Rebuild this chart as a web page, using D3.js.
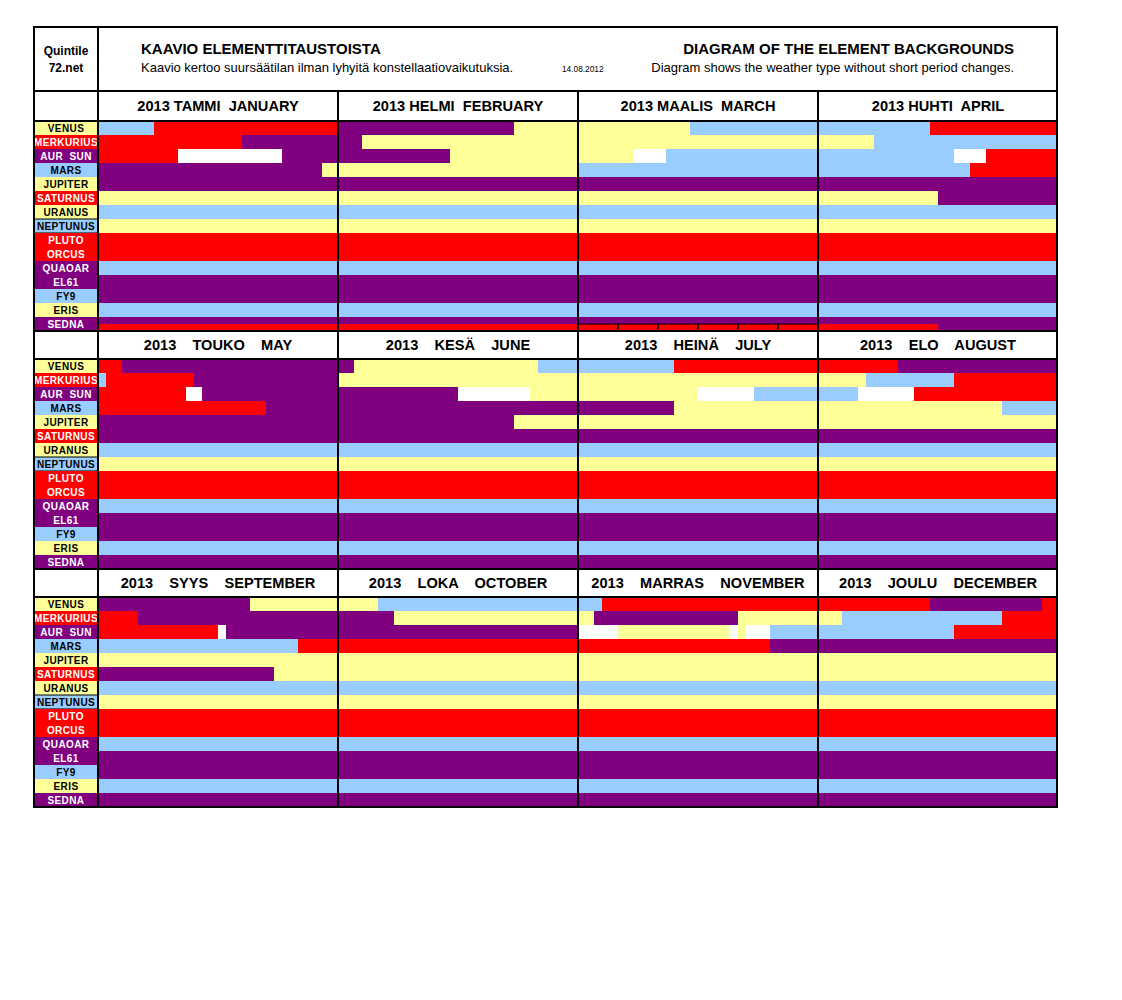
<!DOCTYPE html>
<html>
<head>
<meta charset="utf-8">
<script src="https://cdn.jsdelivr.net/npm/d3@7"></script>
<style>
  body { margin: 0; background: #fff; }
  text { font-family: Arial, "Liberation Sans", sans-serif; white-space: pre; }
</style>
</head>
<body>
<div id="chart"></div>
<script>
var svgWidth = 1122;
var svgHeight = 1000;

// rows of the table
var planets = ["VENUS", "MERKURIUS", "AUR  SUN", "MARS", "JUPITER", "SATURNUS", "URANUS",
  "NEPTUNUS", "PLUTO", "ORCUS", "QUAOAR", "EL61", "FY9", "ERIS", "SEDNA"];
var labelColors = ["Y", "R", "P", "B", "Y", "R", "Y", "B", "R", "R", "P", "P", "B", "Y", "P"];

var monthTitles = [
  "2013 TAMMI  JANUARY", "2013 HELMI  FEBRUARY", "2013 MAALIS  MARCH", "2013 HUHTI  APRIL",
  "2013    TOUKO    MAY", "2013    KESÄ    JUNE", "2013    HEINÄ    JULY", "2013    ELO    AUGUST",
  "2013    SYYS    SEPTEMBER", "2013    LOKA    OCTOBER", "2013    MARRAS    NOVEMBER", "2013    JOULU    DECEMBER"
];

// each row: colour code + day where that colour ends (30 day grid per month)
var january   = ["B7 R30", "R18 P30", "R10 W23 P30", "P28 Y30", "P30", "Y30", "B30", "Y30", "R30", "R30", "B30", "P30", "P30", "B30", "P30"];
var february  = ["P22 Y30", "P3 Y30", "P14 Y30", "Y30", "P30", "Y30", "B30", "Y30", "R30", "R30", "B30", "P30", "P30", "B30", "P30"];
var march     = ["Y14 B30", "Y30", "Y7 W11 B30", "B30", "P30", "Y30", "B30", "Y30", "R30", "R30", "B30", "P30", "P30", "B30", "P30"];
var april     = ["B14 R30", "Y7 B30", "B17 W21 R30", "B19 R30", "P30", "Y15 P30", "B30", "Y30", "R30", "R30", "B30", "P30", "P30", "B30", "P30"];
var may       = ["R3 P30", "B1 R12 P30", "R11 W13 P30", "R21 P30", "P30", "P30", "B30", "Y30", "R30", "R30", "B30", "P30", "P30", "B30", "P30"];
var june      = ["P2 Y25 B30", "Y30", "P15 W24 Y30", "P30", "P22 Y30", "P30", "B30", "Y30", "R30", "R30", "B30", "P30", "P30", "B30", "P30"];
var july      = ["B12 R30", "Y30", "Y15 W22 B30", "P12 Y30", "Y30", "P30", "B30", "Y30", "R30", "R30", "B30", "P30", "P30", "B30", "P30"];
var august    = ["R10 P30", "Y6 B17 R30", "B5 W12 R30", "Y23 B30", "Y30", "P30", "B30", "Y30", "R30", "R30", "B30", "P30", "P30", "B30", "P30"];
var september = ["P19 Y30", "R5 P30", "R15 W16 P30", "B25 R30", "Y30", "P22 Y30", "B30", "Y30", "R30", "R30", "B30", "P30", "P30", "B30", "P30"];
var october   = ["Y5 B30", "P7 Y30", "P30", "R30", "Y30", "Y30", "B30", "Y30", "R30", "R30", "B30", "P30", "P30", "B30", "P30"];
var november  = ["B3 R30", "Y2 P20 Y30", "W5 Y19 W20 Y21 W24 B30", "R24 P30", "Y30", "Y30", "B30", "Y30", "R30", "R30", "B30", "P30", "P30", "B30", "P30"];
var december  = ["R14 P28 R30", "Y3 B23 R30", "B17 R30", "P30", "Y30", "Y30", "B30", "Y30", "R30", "R30", "B30", "P30", "P30", "B30", "P30"];

// lower half of the SEDNA row in the first band (Jan..Apr)
var sednaLower = ["R30", "R30", "R30", "R15"];
var sednaBoxed = [false, false, true, false];

var months = [january, february, march, april, may, june, july, august, september, october, november, december];

var colors = { R: "#FF0000", P: "#800080", Y: "#FFFF99", B: "#99CCFF", W: "#FFFFFF" };

function parseRow(str) {
  var start = 0;
  return str.split(" ").map(function(s) {
    var seg = { c: s[0], from: start, to: +s.slice(1) };
    start = seg.to;
    return seg;
  });
}

// layout
var left = 34, right = 1057, labelRight = 98;
var bandTops = [91, 331, 569];
var headH = [30, 28, 28];
var rowsH = 210;

var svg = d3.select("#chart").append("svg")
  .attr("width", svgWidth)
  .attr("height", svgHeight);

svg.append("rect").attr("width", svgWidth).attr("height", svgHeight).attr("fill", "#fff");

var colScale = d3.scaleBand().domain([0, 1, 2, 3]).range([labelRight, 1058]);
var rowScale = d3.scaleBand().domain(planets).range([0, rowsH]);

months.forEach(function(rows, m) {
  var band = Math.floor(m / 4);
  var col = m % 4;
  var x0 = colScale(col);
  var dayScale = d3.scaleLinear().domain([0, 30]).range([x0, x0 + colScale.bandwidth()]);
  var top = bandTops[band] + headH[band];

  var g = svg.append("g").attr("transform", `translate(0, ${top})`);

  rows.forEach(function(str, i) {
    g.selectAll(null)
      .data(parseRow(str))
      .enter()
      .append("rect")
      .attr("x", d => dayScale(d.from))
      .attr("width", d => dayScale(d.to) - dayScale(d.from))
      .attr("y", rowScale(planets[i]))
      .attr("height", rowScale.bandwidth())
      .attr("fill", d => colors[d.c])
      .attr("shape-rendering", "crispEdges");
  });

  if (band === 0 && sednaLower[col]) {
    var yS = rowScale("SEDNA") + rowScale.bandwidth() / 2;
    var segs = parseRow(sednaLower[col]);
    g.selectAll(null)
      .data(segs)
      .enter()
      .append("rect")
      .attr("x", d => dayScale(d.from))
      .attr("width", d => dayScale(d.to) - dayScale(d.from))
      .attr("y", yS)
      .attr("height", rowScale.bandwidth() / 2)
      .attr("fill", d => colors[d.c])
      .attr("shape-rendering", "crispEdges");
    if (sednaBoxed[col]) {
      g.selectAll(null)
        .data(d3.range(0, 30, 5))
        .enter()
        .append("rect")
        .attr("x", d => dayScale(d))
        .attr("width", dayScale(5) - dayScale(0))
        .attr("y", yS)
        .attr("height", rowScale.bandwidth() / 2)
        .attr("fill", "none")
        .attr("stroke", "#000")
        .attr("stroke-width", 1);
    }
  }

  // month title
  svg.append("text")
    .attr("x", x0 + colScale.bandwidth() / 2)
    .attr("y", bandTops[band] + headH[band] / 2 + 5)
    .attr("text-anchor", "middle")
    .attr("font-size", 14.6)
    .attr("font-weight", "bold")
    .text(monthTitles[m]);
});

// row labels for each band
bandTops.forEach(function(bt, b) {
  var top = bt + headH[b];
  var lg = svg.append("g").attr("transform", `translate(0, ${top})`);
  lg.selectAll("rect")
    .data(planets)
    .enter()
    .append("rect")
    .attr("x", left)
    .attr("width", labelRight - left)
    .attr("y", d => rowScale(d))
    .attr("height", rowScale.bandwidth())
    .attr("fill", (d, i) => colors[labelColors[i]])
    .attr("stroke", d => d === "NEPTUNUS" ? "#000" : "none")
    .attr("stroke-width", 1);
  lg.selectAll("text")
    .data(planets)
    .enter()
    .append("text")
    .attr("x", (left + labelRight) / 2)
    .attr("y", d => rowScale(d) + rowScale.bandwidth() / 2 + 4)
    .attr("text-anchor", "middle")
    .attr("font-size", 10)
    .attr("font-weight", "bold")
    .attr("letter-spacing", 0.4)
    .attr("fill", (d, i) => (labelColors[i] === "R" || labelColors[i] === "P") ? "#fff" : "#000")
    .text(d => d);
});

// grid lines
var lines = svg.append("g").attr("stroke", "#000").attr("stroke-width", 2);
[91, 121, 331, 359, 569, 597].forEach(function(y) {
  lines.append("line").attr("x1", left).attr("x2", right).attr("y1", y).attr("y2", y);
});
lines.append("line").attr("x1", labelRight).attr("x2", labelRight).attr("y1", 27).attr("y2", 807);
[338, 578, 818].forEach(function(x) {
  lines.append("line").attr("x1", x).attr("x2", x).attr("y1", 91).attr("y2", 807);
});
lines.append("rect")
  .attr("x", left).attr("y", 27)
  .attr("width", right - left).attr("height", 780)
  .attr("fill", "none");

// header texts
svg.append("text").attr("x", 66).attr("y", 55).attr("text-anchor", "middle")
  .attr("font-size", 12).attr("font-weight", "bold").text("Quintile");
svg.append("text").attr("x", 66).attr("y", 72).attr("text-anchor", "middle")
  .attr("font-size", 12).attr("font-weight", "bold").text("72.net");

svg.append("text").attr("x", 141).attr("y", 54)
  .attr("font-size", 15).attr("font-weight", "bold").text("KAAVIO ELEMENTTITAUSTOISTA");
svg.append("text").attr("x", 141).attr("y", 72)
  .attr("font-size", 13).text("Kaavio kertoo suursäätilan ilman lyhyitä konstellaatiovaikutuksia.");
svg.append("text").attr("x", 562).attr("y", 72)
  .attr("font-size", 8.3).text("14.08.2012");

svg.append("text").attr("x", 1014).attr("y", 54).attr("text-anchor", "end")
  .attr("font-size", 15).attr("font-weight", "bold").text("DIAGRAM OF THE ELEMENT BACKGROUNDS");
svg.append("text").attr("x", 1014).attr("y", 72).attr("text-anchor", "end")
  .attr("font-size", 13).text("Diagram shows the weather type without short period changes.");
</script>
</body>
</html>
